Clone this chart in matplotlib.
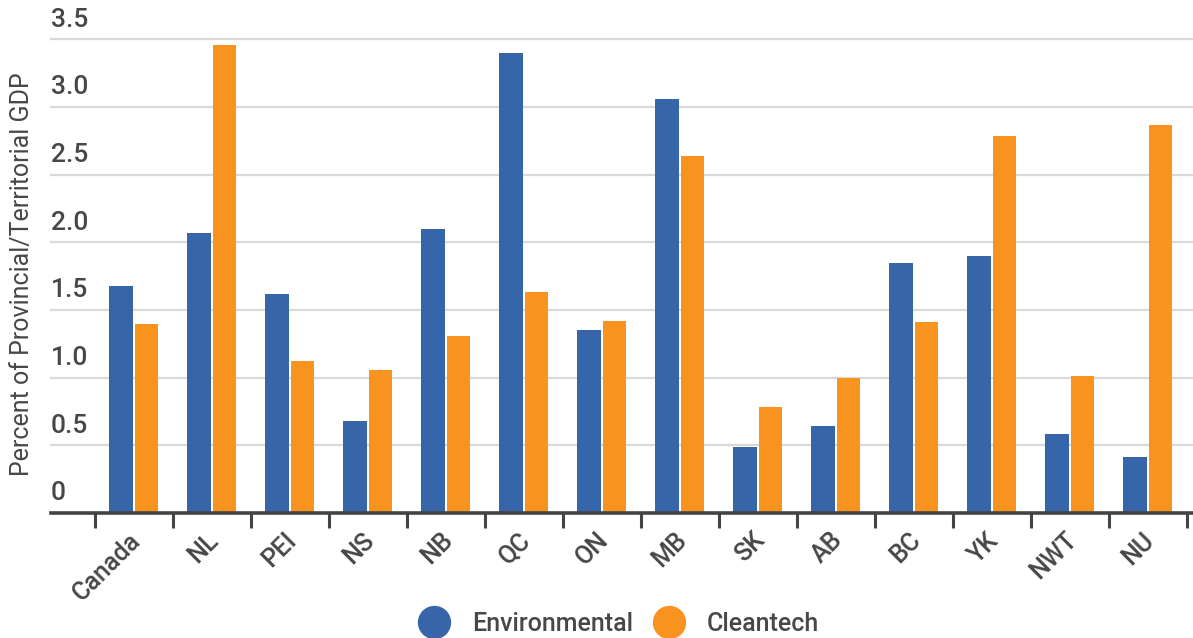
import matplotlib
matplotlib.use("Agg")
import matplotlib.pyplot as plt
import matplotlib.transforms as mtransforms
from matplotlib.lines import Line2D
import numpy as np

plt.rcParams['font.family'] = ['Roboto', 'DejaVu Sans']

regions = ["Canada", "NL", "PEI", "NS", "NB", "QC", "ON", "MB", "SK", "AB", "BC", "YK", "NWT", "NU"]
environmental = [1.68, 2.07, 1.62, 0.68, 2.10, 3.40, 1.35, 3.06, 0.49, 0.64, 1.85, 1.90, 0.58, 0.41]
cleantech = [1.40, 3.46, 1.12, 1.06, 1.31, 1.63, 1.42, 2.64, 0.78, 1.00, 1.41, 2.79, 1.01, 2.87]
yticks = [0, 0.5, 1.0, 1.5, 2.0, 2.5, 3.0, 3.5]
ytick_labels = ["0", "0.5", "1.0", "1.5", "2.0", "2.5", "3.0", "3.5"]

blue = '#3665a9'
orange = '#f7931e'
txt = '#474747'

fig = plt.figure(figsize=(11.93, 6.38), dpi=100)
ax = fig.add_axes([51/1193, 0.196, 1 - 51/1193, 0.9487 - 0.196])

x = np.arange(len(regions))
w = 0.30
ax.bar(x - 0.165, environmental, w, color=blue, zorder=3)
ax.bar(x + 0.165, cleantech, w, color=orange, zorder=3)

ax.set_ylim(0, 3.55)
ax.set_xlim(-1.06, 13.58)

# grid lines and y labels sitting above them
for v, lab in zip(yticks, ytick_labels):
    if v > 0:
        ax.axhline(v, color='#d9d9d9', lw=1.6, zorder=1, clip_on=False)
    trans = mtransforms.offset_copy(ax.get_yaxis_transform(), fig=fig, x=0, y=5.5, units='points')
    ax.text(0, v, lab, transform=trans, ha='left', va='bottom', fontsize=19,
            fontweight='medium', color=txt)
ax.set_yticks([])

for s in ['top', 'right', 'left']:
    ax.spines[s].set_visible(False)
ax.spines['bottom'].set_color('#444444')
ax.spines['bottom'].set_linewidth(2.6)
ax.spines['bottom'].set_zorder(4)

# boundary ticks, labels at category centres
ax.set_xticks(np.arange(len(regions) + 1) - 0.5)
ax.set_xticklabels([])
ax.tick_params(axis='x', which='major', length=11, width=2.2, color='#444444', direction='out')
ax.set_xticks(x, minor=True)
ax.set_xticklabels(regions, minor=True, rotation=45, ha='right', va='center',
                   rotation_mode='anchor', fontsize=18, fontweight='medium', color=txt)
ax.tick_params(axis='x', which='minor', length=0, pad=17)
for lbl in ax.get_xticklabels(minor=True):
    lbl.set_transform(lbl.get_transform() + mtransforms.ScaledTranslation(3/100, 0, fig.dpi_scale_trans))

fig.text(22/1193, 1 - 274/638, "Percent of Provincial/Territorial GDP", rotation=90,
         ha='center', va='center', fontsize=18, color=txt)

handles = [Line2D([], [], marker='o', ls='', markersize=23, color=blue),
           Line2D([], [], marker='o', ls='', markersize=23, color=orange)]
fig.legend(handles, ["Environmental", "Cleantech"], loc='center', bbox_to_anchor=(614/1193, 1 - 624/638),
           ncol=2, frameon=False, prop={'size': 18, 'weight': 'medium'}, labelcolor=txt,
           handletextpad=0.5, columnspacing=0.45)

fig.savefig("out.png", dpi=100)
